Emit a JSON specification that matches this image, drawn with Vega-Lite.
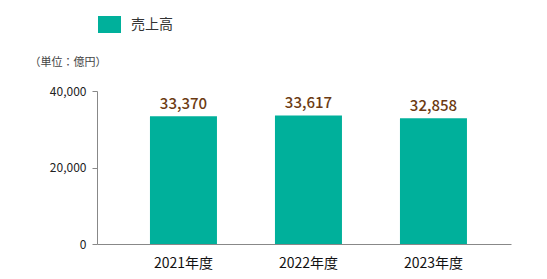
{
  "$schema": "https://vega.github.io/schema/vega-lite/v6.json",
  "width": 414,
  "height": 153,
  "autosize": {"type": "none"},
  "padding": {"left": 97, "top": 91, "right": 36, "bottom": 35},
  "background": "white",
  "config": {
    "view": {"stroke": null},
    "font": "Noto Sans CJK JP"
  },
  "data": {
    "values": [
      {"year": "2021年度", "sales": 33370, "series": "売上高"},
      {"year": "2022年度", "sales": 33617, "series": "売上高"},
      {"year": "2023年度", "sales": 32858, "series": "売上高"}
    ]
  },
  "encoding": {
    "x": {
      "field": "year",
      "type": "nominal",
      "sort": null,
      "scale": {"paddingInner": 0.464, "paddingOuter": 0.388, "align": 0.546},
      "axis": {
        "title": null,
        "labelAngle": 0,
        "ticks": false,
        "domainColor": "#888888",
        "labelFontSize": 14,
        "labelColor": "#111111",
        "labelPadding": 12
      }
    },
    "y": {
      "field": "sales",
      "type": "quantitative",
      "scale": {"domain": [0, 40000]},
      "axis": {
        "values": [0, 20000, 40000],
        "format": ",d",
        "grid": false,
        "domainColor": "#888888",
        "tickColor": "#888888",
        "tickSize": 5,
        "labelFontSize": 12,
        "labelColor": "#222222",
        "labelPadding": 6,
        "title": "（単位：億円）",
        "titleAngle": 0,
        "titleAlign": "left",
        "titleBaseline": "middle",
        "titleX": -68,
        "titleY": -29,
        "titleFontSize": 11,
        "titleFontWeight": "normal",
        "titleColor": "#444444"
      }
    }
  },
  "layer": [
    {
      "mark": {"type": "bar"},
      "encoding": {
        "color": {
          "field": "series",
          "type": "nominal",
          "scale": {"range": ["#00B09B"]},
          "legend": {
            "title": null,
            "orient": "none",
            "legendX": 1,
            "legendY": -78,
            "padding": 0,
            "symbolType": "M-1,-0.74H1V0.74H-1Z",
            "symbolSize": 529,
            "symbolStrokeWidth": 0,
            "symbolOpacity": 1,
            "labelFontSize": 14,
            "labelColor": "#333333",
            "labelOffset": 10
          }
        }
      }
    },
    {
      "mark": {
        "type": "text",
        "baseline": "bottom",
        "dy": -4,
        "fontSize": 15,
        "fontWeight": 500,
        "color": "#6B3A12"
      },
      "encoding": {
        "text": {"field": "sales", "type": "quantitative", "format": ","}
      }
    }
  ]
}
